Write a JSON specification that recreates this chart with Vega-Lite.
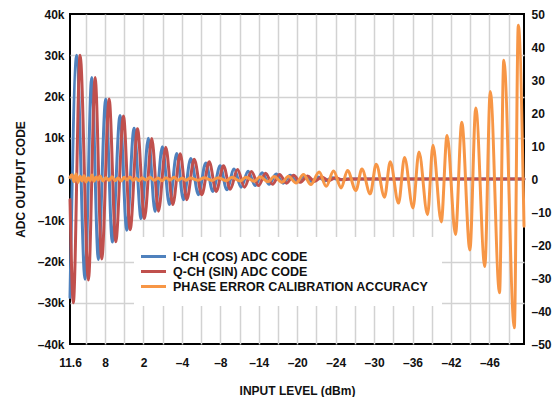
{
  "$schema": "https://vega.github.io/schema/vega-lite/v6.json",
  "autosize": {"type": "none"},
  "padding": {"left": 70, "top": 14, "right": 30, "bottom": 53},
  "width": 454,
  "height": 330,
  "background": "white",
  "config": {
    "font": "Liberation Sans",
    "view": {"stroke": "#000000", "strokeWidth": 2},
    "axis": {
      "labelFont": "Liberation Sans", "labelFontWeight": "bold", "labelFontSize": 12, "labelColor": "#111111",
      "titleFont": "Liberation Sans", "titleFontWeight": "bold", "titleFontSize": 12, "titleColor": "#111111",
      "ticks": false, "domain": false, "gridColor": "#d2d2d2", "gridWidth": 1.5
    },
    "legend": {"labelFont": "Liberation Sans"}
  },
  "data": {"values": [
    {"s":"I","x":0.177,"v":-28700},{"s":"I","x":0.526,"v":30000},{"s":"I","x":0.958,"v":-24300},{"s":"I","x":1.307,"v":24600},
    {"s":"I","x":1.651,"v":-19500},{"s":"I","x":2.036,"v":19400},{"s":"I","x":2.380,"v":-15300},{"s":"I","x":2.781,"v":15400},
    {"s":"I","x":3.129,"v":-12400},{"s":"I","x":3.510,"v":12300},{"s":"I","x":3.874,"v":-9600},{"s":"I","x":4.254,"v":9900},
    {"s":"I","x":4.603,"v":-7900},{"s":"I","x":4.983,"v":7800},{"s":"I","x":5.348,"v":-6200},{"s":"I","x":5.733,"v":6200},
    {"s":"I","x":6.077,"v":-5000},{"s":"I","x":6.462,"v":5000},{"s":"I","x":6.858,"v":-3800},{"s":"I","x":7.243,"v":3900},
    {"s":"I","x":7.607,"v":-3000},{"s":"I","x":7.988,"v":3200},{"s":"I","x":8.336,"v":-2600},{"s":"I","x":8.716,"v":2400},
    {"s":"I","x":9.081,"v":-2000},{"s":"I","x":9.445,"v":1900},{"s":"I","x":9.810,"v":-1600},{"s":"I","x":10.175,"v":1500},
    {"s":"I","x":10.539,"v":-1300},{"s":"I","x":10.903,"v":1200},{"s":"I","x":11.268,"v":-1000},{"s":"I","x":11.632,"v":900},
    {"s":"I","x":11.997,"v":-800},{"s":"I","x":12.361,"v":700},{"s":"I","x":12.726,"v":-600},{"s":"I","x":13.090,"v":500},
    {"s":"I","x":13.455,"v":-400},{"s":"I","x":13.819,"v":300},{"s":"I","x":14.184,"v":-200},{"s":"I","x":14.55,"v":0},
    {"s":"I","x":23.80,"v":0},

    {"s":"Q","x":0.177,"v":-5000},{"s":"Q","x":0.349,"v":-30000},{"s":"Q","x":0.703,"v":30000},{"s":"Q","x":1.135,"v":-24500},
    {"s":"Q","x":1.484,"v":24600},{"s":"Q","x":1.828,"v":-19400},{"s":"Q","x":2.213,"v":19400},{"s":"Q","x":2.557,"v":-15200},
    {"s":"Q","x":2.958,"v":15300},{"s":"Q","x":3.306,"v":-12300},{"s":"Q","x":3.687,"v":12200},{"s":"Q","x":4.051,"v":-9600},
    {"s":"Q","x":4.431,"v":9800},{"s":"Q","x":4.780,"v":-7800},{"s":"Q","x":5.160,"v":7700},{"s":"Q","x":5.525,"v":-6200},
    {"s":"Q","x":5.910,"v":6100},{"s":"Q","x":6.254,"v":-5000},{"s":"Q","x":6.639,"v":4800},{"s":"Q","x":7.035,"v":-3800},
    {"s":"Q","x":7.420,"v":4200},{"s":"Q","x":7.784,"v":-3000},{"s":"Q","x":8.165,"v":3200},{"s":"Q","x":8.513,"v":-2500},
    {"s":"Q","x":8.893,"v":2300},{"s":"Q","x":9.258,"v":-2000},{"s":"Q","x":9.622,"v":1800},{"s":"Q","x":9.987,"v":-1600},
    {"s":"Q","x":10.352,"v":1400},{"s":"Q","x":10.716,"v":-1300},{"s":"Q","x":11.080,"v":1100},{"s":"Q","x":11.445,"v":-1000},
    {"s":"Q","x":11.809,"v":900},{"s":"Q","x":12.174,"v":-800},{"s":"Q","x":12.538,"v":700},{"s":"Q","x":12.903,"v":-600},
    {"s":"Q","x":13.267,"v":500},{"s":"Q","x":13.632,"v":-400},{"s":"Q","x":13.996,"v":300},{"s":"Q","x":14.361,"v":-200},
    {"s":"Q","x":14.72,"v":0},{"s":"Q","x":23.80,"v":0},

    {"s":"P","x":0.177,"v":0.5},{"s":"P","x":0.281,"v":1.3},{"s":"P","x":0.385,"v":-0.8},{"s":"P","x":0.489,"v":1.5},
    {"s":"P","x":0.594,"v":-1.0},{"s":"P","x":0.698,"v":0.8},{"s":"P","x":0.802,"v":-0.6},{"s":"P","x":0.906,"v":1.0},
    {"s":"P","x":1.010,"v":-0.9},{"s":"P","x":1.114,"v":0.4},{"s":"P","x":1.218,"v":-0.5},{"s":"P","x":1.323,"v":1.2},
    {"s":"P","x":1.427,"v":-0.7},{"s":"P","x":1.531,"v":0.6},{"s":"P","x":1.635,"v":-0.3},{"s":"P","x":1.739,"v":0.9},
    {"s":"P","x":1.895,"v":-0.6},{"s":"P","x":2.052,"v":0.4},{"s":"P","x":2.208,"v":-0.4},{"s":"P","x":2.364,"v":0.7},
    {"s":"P","x":2.520,"v":-0.5},{"s":"P","x":2.676,"v":0.3},{"s":"P","x":2.833,"v":-0.6},{"s":"P","x":2.989,"v":0.5},
    {"s":"P","x":3.145,"v":-0.3},{"s":"P","x":3.301,"v":0.6},{"s":"P","x":3.457,"v":-0.4},{"s":"P","x":3.613,"v":0.2},
    {"s":"P","x":3.770,"v":-0.5},{"s":"P","x":3.926,"v":0.4},{"s":"P","x":4.134,"v":-0.3},{"s":"P","x":4.342,"v":0.5},
    {"s":"P","x":4.551,"v":-0.4},{"s":"P","x":4.759,"v":0.3},{"s":"P","x":4.967,"v":-0.5},{"s":"P","x":5.176,"v":0.4},
    {"s":"P","x":5.384,"v":-0.3},{"s":"P","x":5.592,"v":0.5},{"s":"P","x":5.801,"v":-0.4},{"s":"P","x":6.009,"v":0.3},
    {"s":"P","x":6.217,"v":-0.4},{"s":"P","x":6.426,"v":0.3},{"s":"P","x":6.842,"v":-0.4},{"s":"P","x":7.155,"v":0.35},
    {"s":"P","x":7.571,"v":-0.45},{"s":"P","x":7.884,"v":0.4},{"s":"P","x":8.300,"v":-0.5},{"s":"P","x":8.612,"v":0.5},
    {"s":"P","x":9.029,"v":-0.6},{"s":"P","x":9.341,"v":0.55},{"s":"P","x":9.758,"v":-0.7},{"s":"P","x":10.070,"v":0.65},
    {"s":"P","x":10.487,"v":-0.85},{"s":"P","x":10.799,"v":0.75},{"s":"P","x":11.216,"v":-1.0},{"s":"P","x":11.544,"v":0.85},
    {"s":"P","x":11.945,"v":-1.2},{"s":"P","x":12.325,"v":1.4},{"s":"P","x":12.710,"v":-1.7},{"s":"P","x":13.142,"v":2.1},
    {"s":"P","x":13.507,"v":-2.2},{"s":"P","x":13.887,"v":2.4},{"s":"P","x":14.288,"v":-2.7},{"s":"P","x":14.616,"v":2.6},
    {"s":"P","x":15.053,"v":-3.5},{"s":"P","x":15.366,"v":3.0},{"s":"P","x":15.798,"v":-4.5},{"s":"P","x":16.110,"v":4.5},
    {"s":"P","x":16.543,"v":-5.5},{"s":"P","x":16.839,"v":5.2},{"s":"P","x":17.272,"v":-7.3},{"s":"P","x":17.584,"v":6.5},
    {"s":"P","x":18.021,"v":-8.8},{"s":"P","x":18.334,"v":8.2},{"s":"P","x":18.782,"v":-10.8},{"s":"P","x":19.063,"v":10.2},
    {"s":"P","x":19.495,"v":-13.0},{"s":"P","x":19.797,"v":13.2},{"s":"P","x":20.234,"v":-16.8},{"s":"P","x":20.562,"v":17.2},
    {"s":"P","x":20.984,"v":-21.5},{"s":"P","x":21.291,"v":21.5},{"s":"P","x":21.760,"v":-26.5},{"s":"P","x":22.046,"v":26.5},
    {"s":"P","x":22.525,"v":-34.5},{"s":"P","x":22.749,"v":36.0},{"s":"P","x":23.296,"v":-45.1},{"s":"P","x":23.504,"v":46.6},
    {"s":"P","x":23.801,"v":-14.3}
  ]},
  "encoding": {
    "x": {
      "field": "x", "type": "quantitative",
      "scale": {"domain": [0.177, 23.8], "nice": false, "zero": false},
      "axis": {
        "title": "INPUT LEVEL (dBm)",
        "values": [0.177,1,2,3,4,5,6,7,8,9,10,11,12,13,14,15,16,17,18,19,20,21,22,23],
        "labelExpr": "datum.value < 0.5 ? '11.6' : datum.value == 2 ? '8' : datum.value == 4 ? '2' : datum.value == 6 ? '–4' : datum.value == 8 ? '–8' : datum.value == 10 ? '–14' : datum.value == 12 ? '–20' : datum.value == 14 ? '–24' : datum.value == 16 ? '–30' : datum.value == 18 ? '–36' : datum.value == 20 ? '–42' : datum.value == 22 ? '–46' : ''",
        "labelPadding": 13,
        "labelFlush": false,
        "labelOverlap": false,
        "titlePadding": 17,
        "gridOpacity": {"condition": {"test": "datum.value < 0.5", "value": 0}, "value": 1}
      }
    },
    "color": {
      "field": "s", "type": "nominal",
      "scale": {"domain": ["I", "Q", "P"], "range": ["#4F81BD", "#C0504D", "#F79646"]},
      "legend": {
        "title": null,
        "orient": "none",
        "legendX": 64,
        "legendY": 223,
        "fillColor": "white",
        "padding": 13,
        "symbolType": "M-2.5,0H2.5",
        "symbolSize": 100,
        "symbolStrokeWidth": 3,
        "labelOffset": 13,
        "labelFontSize": 12.5,
        "labelFontWeight": "bold",
        "labelColor": "#111111",
        "labelLimit": 400,
        "rowPadding": 2,
        "labelExpr": "datum.value == 'I' ? 'I-CH (COS) ADC CODE' : datum.value == 'Q' ? 'Q-CH (SIN) ADC CODE' : 'PHASE ERROR CALIBRATION ACCURACY'"
      }
    }
  },
  "layer": [
    {
      "encoding": {
        "y": {
          "field": "v", "type": "quantitative",
          "scale": {"domain": [-40000, 40000], "nice": false},
          "axis": {
            "orient": "left",
            "title": "ADC OUTPUT CODE",
            "values": [-40000,-30000,-20000,-10000,0,10000,20000,30000,40000],
            "labelExpr": "datum.value == 0 ? '0' : (datum.value < 0 ? '–' : '') + format(abs(datum.value) / 1000, 'd') + 'k'",
            "labelPadding": 6,
            "labelFlush": false,
            "titlePadding": 10,
            "gridOpacity": {"condition": {"test": "abs(datum.value) > 39000", "value": 0}, "value": 1}
          }
        }
      },
      "layer": [
        {
          "transform": [{"filter": "datum.s == 'I'"}],
          "mark": {"type": "line", "interpolate": "monotone", "strokeWidth": 3, "strokeJoin": "round", "strokeCap": "round"}
        },
        {
          "transform": [{"filter": "datum.s == 'Q'"}],
          "mark": {"type": "line", "interpolate": "monotone", "strokeWidth": 3, "strokeJoin": "round", "strokeCap": "round"}
        }
      ]
    },
    {
      "transform": [{"filter": "datum.s == 'P'"}],
      "mark": {"type": "line", "interpolate": "monotone", "strokeWidth": 3, "strokeJoin": "round", "strokeCap": "round"},
      "encoding": {
        "y": {
          "field": "v", "type": "quantitative",
          "scale": {"domain": [-50, 50], "nice": false},
          "axis": {
            "orient": "right",
            "title": null,
            "grid": false,
            "values": [-50,-40,-30,-20,-10,0,10,20,30,40,50],
            "labelExpr": "datum.value < 0 ? '–' + abs(datum.value) : '' + datum.value",
            "labelPadding": 7,
            "labelFlush": false
          }
        }
      }
    }
  ],
  "resolve": {"scale": {"y": "independent"}}
}
